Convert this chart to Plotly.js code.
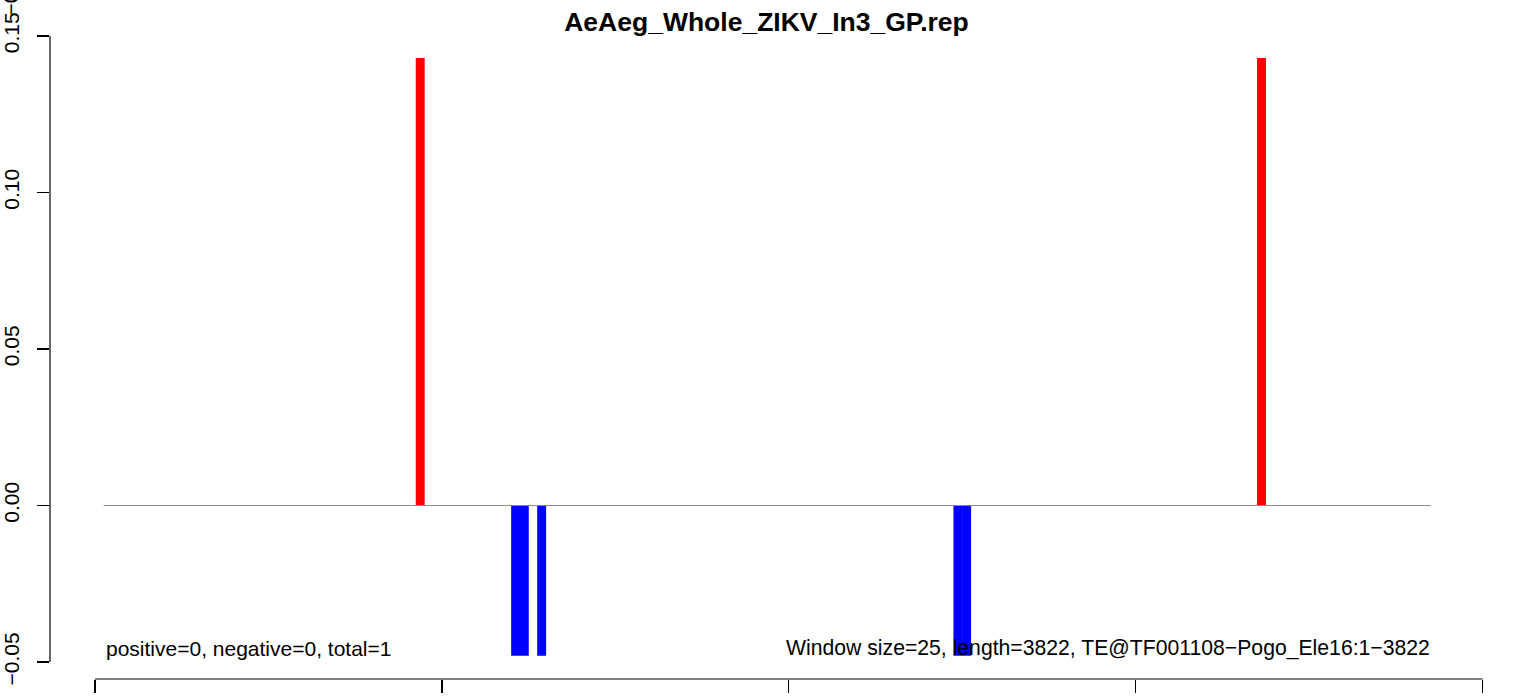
<!DOCTYPE html>
<html>
<head>
<meta charset="utf-8">
<script src="https://cdn.plot.ly/plotly-3.0.1.min.js"></script>
<style>html,body{margin:0;padding:0;background:#fff;}#chart{width:1533px;height:698px;}</style>
</head>
<body>
<div id="chart"></div>
<script>
// Data (positions in nucleotides, window size 25)
const chartTitle = "AeAeg_Whole_ZIKV_In3_GP.rep";
const windowSize = 25;
const posX = [937.5, 3362.5];
const posY = [0.143, 0.143];
const negX = [1212.5, 1237.5, 1287.5, 2487.5, 2512.5];
const negY = [-0.048, -0.048, -0.048, -0.048, -0.048];
const baselineX = [25, 3850];
const baselineY = [0, 0];
const xTicks = [0, 1000, 2000, 3000, 4000];
const yTicks = [-0.05, 0, 0.05, 0.10, 0.15];
const yTickText = ["\u22120.05", "0.00", "0.05", "0.10", "0.15"];
const leftNote = "positive=0, negative=0, total=1";
const rightNote = "Window size=25, length=3822, TE@TF001108\u2212Pogo_Ele16:1\u22123822";

const font = "Liberation Sans, Arial, Helvetica, sans-serif";

const traces = [
  {type: "bar", x: posX, y: posY, width: windowSize + 0.8, marker: {color: "#ff0000", line: {width: 0}}, hoverinfo: "skip"},
  {type: "bar", x: negX, y: negY, width: windowSize + 0.8, marker: {color: "#0000ff", line: {width: 0}}, hoverinfo: "skip"},
  {type: "scatter", mode: "lines", x: baselineX, y: baselineY, line: {color: "#8c8c8c", width: 1.2}, hoverinfo: "skip"}
];

const layout = {
  width: 1533, height: 698,
  margin: {l: 50, r: 49.65, t: 36, b: 19, pad: 0},
  paper_bgcolor: "#ffffff", plot_bgcolor: "#ffffff",
  showlegend: false,
  barmode: "overlay",
  title: {text: "<b>" + chartTitle + "</b>", font: {family: font, size: 26.5, color: "#000"},
          x: 0.5, xref: "container", y: 1 - 22/698, yref: "container", yanchor: "middle"},
  xaxis: {range: [-129.68, 4001], tickvals: xTicks, showticklabels: false, ticks: "outside",
          ticklen: 13, tickwidth: 1.2, tickcolor: "#000", showgrid: false, zeroline: false, showline: false, fixedrange: true},
  yaxis: {range: [-0.05543, 0.15], tickvals: yTicks, ticktext: yTickText, tickangle: -90, ticks: "outside",
          ticklen: 12, tickwidth: 1.2, tickcolor: "#000", showgrid: false, zeroline: false, showline: false,
          ticklabelstandoff: 10, tickfont: {family: font, size: 21, color: "#000"}, fixedrange: true},
  shapes: [
    {type: "line", xref: "x", yref: "paper", x0: xTicks[0], x1: xTicks[xTicks.length-1], y0: 0, y1: 0, line: {color: "#000", width: 1.2}},
    {type: "line", xref: "paper", yref: "y", x0: 0, x1: 0, y0: yTicks[0], y1: yTicks[yTicks.length-1], line: {color: "#000", width: 1.2}}
  ],
  annotations: [
    {text: leftNote, xref: "paper", yref: "paper", x: (104-50)/1433.35, y: (679-648)/643, xanchor: "left", yanchor: "middle",
     showarrow: false, font: {family: font, size: 21, color: "#000"}},
    {text: rightNote, xref: "paper", yref: "paper", x: (1432-50)/1433.35, y: (679-648)/643, xanchor: "right", yanchor: "middle",
     showarrow: false, font: {family: font, size: 21.2, color: "#000"}},
    {text: "\u22120.05", xref: "paper", yref: "y", x: 0, xshift: -40, y: 0.15, yshift: 18, xanchor: "center", yanchor: "bottom",
     textangle: -90, showarrow: false, font: {family: font, size: 21, color: "#000"}}
  ]
};

Plotly.newPlot("chart", traces, layout, {displayModeBar: false, staticPlot: true});
</script>
</body>
</html>
